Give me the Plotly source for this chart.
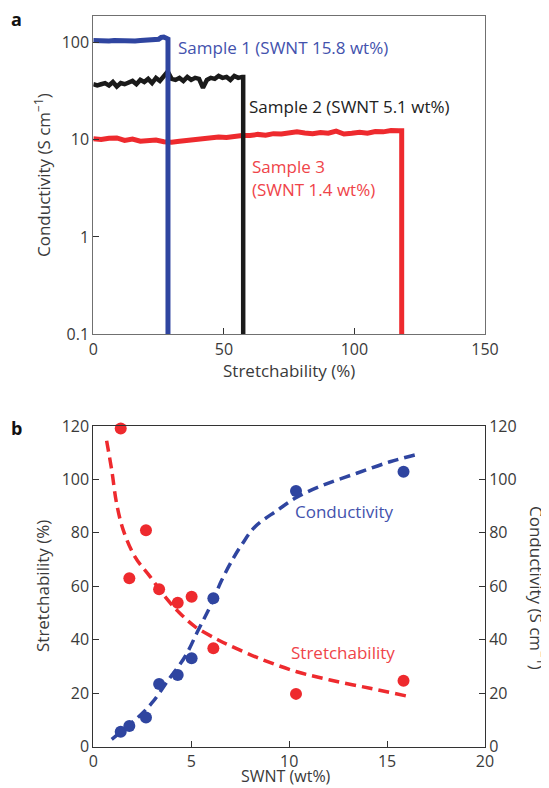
import plotly.graph_objects as go

# page is drawn with an 8px body margin, so the figure is 8px smaller and all
# pixel positions below are page positions (offset handled in px/py)
OFF = 8
PAGE_W, PAGE_H = 549, 788
W, H = PAGE_W - OFF, PAGE_H - OFF
FONT = "Open Sans"
TXT = "#3a3a3a"
BLUE = "#2f45a0"
RED = "#ee2a2e"
BLACK = "#1a1a1a"
BLUE_T = "#4352ad"
RED_T = "#ef4449"

# ---- panel a data ----
s1_x = [0, 2, 4, 6, 8, 10, 12, 14, 16, 18, 20, 22, 24, 25, 26, 27, 28, 28.6, 28.6]
s1_y = [104, 103, 104, 103, 104, 103, 103, 104, 103, 104, 104, 104, 105, 107, 112, 113, 110, 108, 0.01]

s2_x = [0, 1.5, 3, 4.5, 6, 7.5, 9, 10.5, 12, 13.5, 15, 16.5, 18, 19.5, 21, 22.5, 24, 25.5, 27, 28.5,
        30, 31.5, 33, 34.5, 36, 37.5, 39, 40.5, 42, 43.5, 45, 46.5, 48, 49.5, 51, 52.5, 54, 55.5, 57, 57.4, 57.4]
s2_y = [37, 36, 37, 38, 36, 39, 35, 38, 37, 39, 40, 37, 41, 39, 42, 38, 43, 40, 45, 50,
        42, 41, 43, 40, 44, 41, 43, 42, 34, 41, 43, 42, 45, 43, 44, 41, 45, 43, 44, 44, 0.01]

s3_x = [0, 3, 6, 9, 12, 15, 18, 21, 24, 27, 30, 33, 36, 39, 42, 45, 48, 51, 54, 57, 60, 63, 66, 69,
        72, 75, 78, 81, 84, 87, 90, 93, 96, 99, 102, 105, 108, 111, 114, 117, 118.1, 118.1]
s3_y = [10.2, 10.0, 10.3, 10.4, 9.8, 10.1, 9.6, 9.7, 9.9, 9.5, 9.4, 9.6, 9.8, 10.0, 10.3, 10.4, 10.6,
        10.5, 10.8, 11.0, 11.0, 11.3, 11.1, 11.5, 11.4, 11.6, 12.0, 11.7, 11.5, 11.8, 11.6, 12.2, 11.4,
        11.6, 11.9, 11.6, 12.1, 12.0, 12.4, 12.3, 12.3, 0.01]

a_xticks = [0, 50, 100, 150]
a_yticks = [0.1, 1, 10, 100]
a_yticklabels = ["0.1", "1", "10", "100"]

# ---- panel b data ----
swnt = [1.40, 1.84, 2.69, 3.36, 4.31, 5.02, 6.13, 10.35, 15.84]
stretch = [119.1, 63.0, 81.0, 58.9, 53.8, 56.1, 36.8, 19.7, 24.6]
cond = [5.5, 7.7, 10.9, 23.4, 26.8, 33.0, 55.5, 95.7, 102.9]

stretch_fit_x = [0.68, 0.94, 1.19, 1.53, 2.13, 2.9, 3.66, 4.34, 5.19, 6.38, 7.15, 8.68, 10.39, 12.09, 14.13, 16.0]
stretch_fit_y = [114.5, 103.5, 91, 81, 71, 63.6, 56.1, 50.5, 44.9, 39.9, 37.2, 32.4, 28, 24.9, 21.8, 18.9]

cond_fit_x = [0.94, 2.13, 2.98, 3.83, 4.68, 5.36, 5.96, 6.56, 7.15, 7.6, 8.26, 9.37, 10.39, 11.75, 13.45, 15.15, 16.6]
cond_fit_y = [2.7, 9.9, 16.2, 24.9, 33.6, 43.6, 52.3, 62.3, 70.5, 75.8, 82.3, 88.3, 93.3, 97.9, 102.3, 106.6, 109.5]

b_xticks = [0, 5, 10, 15, 20]
b_yticks = [0, 20, 40, 60, 80, 100, 120]

# ---- geometry (page pixels) ----
PL, PR = 93.3, 485.0
A_T, A_B = 15.7, 334.3
B_T, B_B = 426.0, 746.5


def px(x):
    return (x - OFF) / W


def py(y):
    return 1 - (y - OFF) / H


fig = go.Figure()

fig.add_trace(go.Scatter(x=s3_x, y=s3_y, mode="lines", line=dict(color=RED, width=5),
                         xaxis="x", yaxis="y", showlegend=False))
fig.add_trace(go.Scatter(x=s2_x, y=s2_y, mode="lines", line=dict(color=BLACK, width=4.5),
                         xaxis="x", yaxis="y", showlegend=False))
fig.add_trace(go.Scatter(x=s1_x, y=s1_y, mode="lines", line=dict(color=BLUE, width=5),
                         xaxis="x", yaxis="y", showlegend=False))

fig.add_trace(go.Scatter(x=stretch_fit_x, y=stretch_fit_y, mode="lines", line_shape="spline",
                         line=dict(color=RED, width=3.5, dash="11px,6px"),
                         xaxis="x2", yaxis="y2", showlegend=False))
fig.add_trace(go.Scatter(x=cond_fit_x, y=cond_fit_y, mode="lines", line_shape="spline",
                         line=dict(color=BLUE, width=3.5, dash="11px,6px"),
                         xaxis="x2", yaxis="y3", showlegend=False))
fig.add_trace(go.Scatter(x=swnt, y=stretch, mode="markers", marker=dict(color=RED, size=12),
                         xaxis="x2", yaxis="y2", showlegend=False, cliponaxis=False))
fig.add_trace(go.Scatter(x=swnt, y=cond, mode="markers", marker=dict(color=BLUE, size=12),
                         xaxis="x2", yaxis="y3", showlegend=False, cliponaxis=False))

tickfont = dict(family=FONT, size=16, color=TXT)
common = dict(ticks="inside", ticklen=6, tickwidth=1, showgrid=False, zeroline=False,
              showline=True, linewidth=1, tickfont=tickfont, automargin=False)

fig.update_layout(
    width=W, height=H, margin=dict(l=0, r=0, t=0, b=0, autoexpand=False),
    paper_bgcolor="white", plot_bgcolor="white",
    xaxis=dict(domain=[px(PL), px(PR)], anchor="y", range=[0, 150], tickvals=a_xticks,
               mirror=True, linecolor="#707070", tickcolor="#333", **common),
    yaxis=dict(domain=[py(A_B), py(A_T)], anchor="x", type="log", range=[-1, 2.272],
               tickvals=a_yticks, ticktext=a_yticklabels, mirror=True, linecolor="#707070",
               tickcolor="#333", **common),
    xaxis2=dict(domain=[px(PL), px(PR)], anchor="y2", range=[0, 20], tickvals=b_xticks,
                mirror=True, linecolor="#333", tickcolor="#333", **common),
    yaxis2=dict(domain=[py(B_B), py(B_T)], anchor="x2", range=[0, 120], tickvals=b_yticks,
                linecolor="#333", tickcolor="#333", **common),
    yaxis3=dict(overlaying="y2", side="right", anchor="x2", range=[0, 120], tickvals=b_yticks,
                linecolor="#333", tickcolor="#333", **common),
)

ann = []


def txt(x, y, s, size=17, color=TXT, angle=0, xanchor="center", bold=False, xref="paper", yref="paper"):
    ann.append(dict(x=x, y=y, xref=xref, yref=yref, text=("<b>%s</b>" % s) if bold else s,
                    showarrow=False, textangle=angle, xanchor=xanchor, yanchor="middle",
                    font=dict(family=FONT, size=size, color=color)))


txt(px(16), py(19), "a", size=18, color="#111", bold=True)
txt(px(16), py(428), "b", size=18, color="#111", bold=True)

txt(px(42), py(175), "Conductivity (S cm<sup>−1</sup>)", angle=-90)
txt(px((PL + PR) / 2), py(370), "Stretchability (%)")
txt(px(42), py(586), "Stretchability (%)", angle=-90)
txt(px(538), py(588), "Conductivity (S cm<sup>−1</sup>)", angle=90)
txt(px(286), py(776), "SWNT (wt%)", size=16)

txt(31.6, 1.95, "Sample 1 (SWNT 15.8 wt%)", color=BLUE_T, xanchor="left", xref="x", yref="y")
txt(58.9, 1.343, "Sample 2 (SWNT 5.1 wt%)", color="#222", xanchor="left", xref="x", yref="y")
txt(60.0, 2 - (166 - 42) / 97.4, "Sample 3", color=RED_T, xanchor="left", xref="x", yref="y")
txt(60.0, 2 - (189 - 42) / 97.4, "(SWNT 1.4 wt%)", color=RED_T, xanchor="left", xref="x", yref="y")

txt(12.85, 87.9, "Conductivity", color=BLUE_T, xref="x2", yref="y3")
txt(12.77, 35.3, "Stretchability", color=RED_T, xref="x2", yref="y2")

fig.update_layout(annotations=ann)

fig.write_html("out.html")
